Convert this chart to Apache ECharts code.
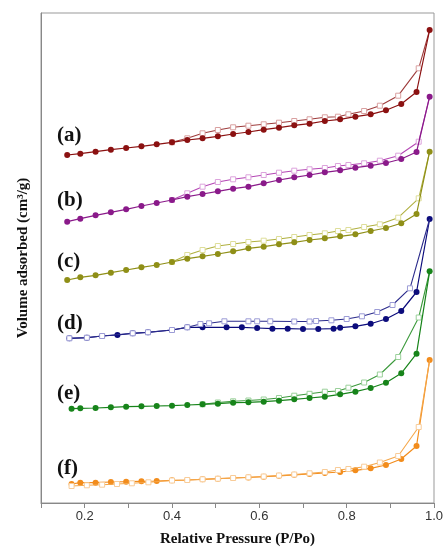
<!DOCTYPE html>
<html>
<head>
<meta charset="utf-8">
<script src="https://cdn.jsdelivr.net/npm/echarts@6/dist/echarts.min.js"></script>
<style>
  html, body { margin: 0; padding: 0; background: #fff; }
  #main { width: 448px; height: 552px; }
</style>
</head>
<body>
<div id="main"></div>
<script>
// relative pressure points (P/Po)
var pAds   = [0.16,0.19,0.225,0.26,0.295,0.33,0.365,0.40,0.435,0.47,0.505,0.54,0.575,0.61,0.645,0.68,0.715,0.75,0.785,0.82,0.855,0.89,0.925,0.96,0.99];
var pAdsEF = [0.17,0.19,0.225,0.26,0.295,0.33,0.365,0.40,0.435,0.47,0.505,0.54,0.575,0.61,0.645,0.68,0.715,0.75,0.785,0.82,0.855,0.89,0.925,0.96,0.99];
var pDes   = [0.99,0.965,0.918,0.876,0.84,0.804,0.78,0.75,0.715,0.68,0.645,0.61,0.575,0.54,0.505,0.47,0.435,0.40];
var pDesF  = [0.99,0.965,0.918,0.876,0.84,0.804,0.78,0.75,0.715,0.68,0.645,0.61,0.575,0.54,0.505,0.47,0.435,0.40,0.346,0.308,0.274,0.24,0.205,0.17];
var pAdsD  = [0.165,0.205,0.24,0.275,0.31,0.345,0.40,0.435,0.47,0.525,0.56,0.595,0.63,0.665,0.70,0.735,0.77,0.785,0.82,0.855,0.89,0.925,0.96,0.99];
var pDesD  = [0.99,0.945,0.905,0.87,0.835,0.80,0.765,0.73,0.715,0.68,0.625,0.595,0.575,0.52,0.485,0.465,0.435,0.40,0.345,0.31,0.24,0.205,0.165];

// volume adsorbed (curves offset for display, arbitrary units)
var aAds = [348,349.3,351.3,353.3,355,356.7,358.7,360.7,363,364.7,366.7,369,371,373.3,375.3,377.7,379.3,382,383.7,386.3,388.7,392.7,399,411,473];
var aDes = [473,434.7,407.3,397.3,392,388.7,386.3,385.7,383.7,382,380.3,378.7,377.3,375.7,373,369.7,364.7,360.7];
var bAds = [281.3,284.3,287.7,290.7,293.7,297,300,303,306.3,309,311.7,314.3,316.3,319.7,323,325.7,328,330.7,332.7,335.3,337.3,340,344,351,406.3];
var bDes = [406.3,361.3,347.3,342.3,339.7,338,337,335,333.7,332.3,330.3,328,325.7,323.7,321,316.3,309.7,303];
var cAds = [223,225.7,227.7,230.3,233,235.7,238,241,244.3,246.7,249,251.7,254.7,256.3,258.7,260.7,263,264.7,266.7,268.7,272,275,279.7,289,351.3];
var cDes = [351.3,304.7,285.3,278.7,276,273,272,269.7,268,266,264,262.3,261,259,257,253,248,241];
var dAds = [164.7,165.3,167,168,169.7,170.7,173,175.7,175.7,175.7,175.7,175,174.3,174.3,174,174,174.3,175.3,176.7,179.3,184,192,211,284];
var dDes = [284,214.7,198,191,186.7,184,182.7,182,181.5,181.5,181.7,181.7,181.7,181.7,179.7,179,175.7,173,170.7,169.7,167,165.3,164.7];
var eAds = [94.3,94.7,95,95.7,96.3,96.7,97,97.3,98,98.7,99.3,100.3,100.7,101.3,102.3,103.7,105,106.3,108.7,111.3,115,120.3,129.7,149.3,231.7];
var eDes = [231.5,185.5,146,128.5,120.5,115.3,112,111.3,109.2,107.3,105,103.5,102.5,101.7,100.5,98.7];
var fAds = [19,20.3,20.3,21,21.3,21.7,22,22.7,23,23.7,24.3,25,25.5,26.3,27.2,28.2,29,30,31,32.7,34.7,38,44,57,143];
var fDes = [143,76,47,40.5,36.3,34,33,31,29.7,28.5,27.5,26.5,25.7,25,24.3,23.7,23,22.5,20.7,19.7,19,18.3,17.7,17];

var xTickLabels = ['0.2', '0.4', '0.6', '0.8', '1.0'];
var curveLabels = ['(a)', '(b)', '(c)', '(d)', '(e)', '(f)'];
var labelY = [137, 202, 263, 325, 395, 470];

function zip(xs, ys) {
  var out = [];
  for (var i = 0; i < ys.length; i++) out.push([xs[i], ys[i]]);
  return out;
}

// adsorption: filled circles
function adsSeries(xs, ys, color) {
  return {
    type: 'line', data: zip(xs, ys), symbol: 'circle', symbolSize: 6,
    lineStyle: { color: color, width: 1.2 },
    itemStyle: { color: color },
    z: 3
  };
}
// desorption: open squares, first point shared with the adsorption top
function desSeries(xs, ys, lineColor, markColor, onTop) {
  var data = zip(xs, ys);
  data[0] = { value: data[0], symbol: 'none' };
  return {
    type: 'line', data: data, symbol: 'rect', symbolSize: 5,
    lineStyle: { color: lineColor, width: 1.1 },
    itemStyle: { color: '#fff', borderColor: markColor, borderWidth: 1 },
    z: onTop ? 4 : 2
  };
}

var series = [
  adsSeries(pAds, aAds, '#8b1111'),   desSeries(pDes, aDes, '#9e3c3c', '#d9a0a0'),
  adsSeries(pAds, bAds, '#8a1a8a'),   desSeries(pDes, bDes, '#b548b5', '#dca3dc'),
  adsSeries(pAds, cAds, '#8f8f17'),   desSeries(pDes, cDes, '#b0b040', '#dede9a'),
  adsSeries(pAdsD, dAds, '#0c0c7c'),  desSeries(pDesD, dDes, '#2c2c8c', '#9c9cd6', true),
  adsSeries(pAdsEF, eAds, '#17841a'), desSeries(pDes, eDes, '#3c9a3c', '#9ad09a'),
  adsSeries(pAdsEF, fAds, '#f28c1c'), desSeries(pDesF, fDes, '#f5a74a', '#f8cc99', true)
];

var graphics = curveLabels.map(function (t, i) {
  return {
    type: 'text', left: 57, top: labelY[i] - 12,
    style: { text: t, fill: '#111', font: 'bold 21px "Liberation Serif"' }
  };
});

var myChart = echarts.init(document.getElementById('main'));
var option = {
  animation: false,
  backgroundColor: '#fff',
  grid: { left: 41, right: 14, top: 13, bottom: 49, show: true, borderColor: '#999', borderWidth: 1 },
  xAxis: {
    type: 'value', min: 0.1, max: 1.0, interval: 0.1,
    name: 'Relative Pressure (P/Po)', nameLocation: 'middle', nameGap: 29,
    nameTextStyle: { fontFamily: 'Liberation Serif', fontWeight: 'bold', fontSize: 15, color: '#111' },
    axisLine: { lineStyle: { color: '#888', width: 1 } },
    axisTick: { show: true, length: 5, lineStyle: { color: '#888' } },
    axisLabel: {
      margin: 7, fontSize: 13, fontFamily: 'Liberation Sans', color: '#333',
      formatter: function (v) {
        var k = Math.round(v * 10);
        return (k % 2 === 0) ? (xTickLabels[k / 2 - 1] || '') : '';
      }
    },
    splitLine: { show: false }
  },
  yAxis: {
    type: 'value', min: 0, max: 490,
    name: 'Volume adsorbed (cm³/g)', nameLocation: 'middle', nameGap: 10, nameRotate: 90,
    nameTextStyle: { fontFamily: 'Liberation Serif', fontWeight: 'bold', fontSize: 15, color: '#111' },
    axisLine: { show: true, lineStyle: { color: '#888', width: 1 } },
    axisTick: { show: false },
    axisLabel: { show: false },
    splitLine: { show: false }
  },
  graphic: graphics,
  series: series
};
myChart.setOption(option);
</script>
</body>
</html>
